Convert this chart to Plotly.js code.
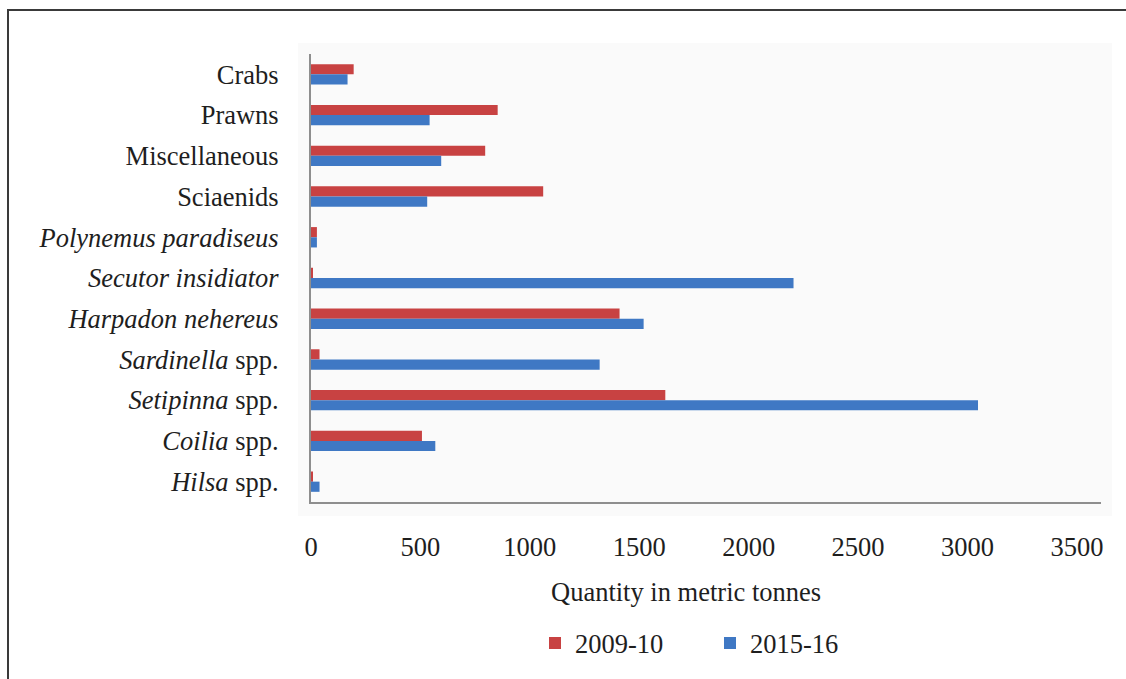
<!DOCTYPE html>
<html>
<head>
<meta charset="utf-8">
<script src="https://cdn.plot.ly/plotly-3.0.1.min.js"></script>
<style>
html,body{margin:0;padding:0;background:#fff;}
#wrap{position:relative;width:1126px;height:679px;}
#chart{width:1126px;height:679px;}
#frame{position:absolute;left:7px;top:9px;width:1119px;height:670px;border-left:2px solid #3a3a3a;border-top:2px solid #3a3a3a;pointer-events:none;}
</style>
</head>
<body>
<div id="wrap"><div id="chart"></div><div id="frame"></div></div>
<script>
const categories = ["Crabs","Prawns","Miscellaneous","Sciaenids","Polynemus paradiseus","Secutor insidiator","Harpadon nehereus","Sardinella spp.","Setipinna spp.","Coilia spp.","Hilsa spp."];
const tickLabels = ["Crabs","Prawns","Miscellaneous","Sciaenids","<i>Polynemus paradiseus</i>","<i>Secutor insidiator</i>","<i>Harpadon nehereus</i>","<i>Sardinella</i> spp.","<i>Setipinna</i> spp.","<i>Coilia</i> spp.","<i>Hilsa</i> spp."];
const values2009 = [195, 853, 796, 1061, 27, 9, 1410, 39, 1619, 507, 9];
const values2015 = [167, 542, 595, 531, 27, 2205, 1520, 1319, 3048, 568, 39];
const xTicks = [0, 500, 1000, 1500, 2000, 2500, 3000, 3500];
const xMax = 3610;

const fam = "Liberation Serif, Times New Roman, serif";
const fsize = 26.5;

const traces = [
  {type: "bar", orientation: "h", name: "2009-10", y: categories, x: values2009,
   marker: {color: "#c84242"}, hoverinfo: "x+y"},
  {type: "bar", orientation: "h", name: "2015-16", y: categories, x: values2015,
   marker: {color: "#3f78c4"}, hoverinfo: "x+y"}
];

const L = 311, R = 1101, T = 54, B = 504;
const pw = R - L, ph = B - T;
const px = v => (v - L) / pw;
const py = v => (B - v) / ph;

const layout = {
  width: 1126, height: 679,
  margin: {l: L, r: 1126 - R, t: T, b: 679 - B, pad: 0},
  paper_bgcolor: "#ffffff",
  plot_bgcolor: "#fafafa",
  font: {family: fam, size: fsize, color: "#1e1e1e"},
  barmode: "group",
  bargap: 0.5,
  bargroupgap: 0,
  showlegend: true,
  legend: {orientation: "h", x: px(535), xanchor: "left", y: py(646), yanchor: "middle",
           font: {family: fam, size: fsize, color: "#1e1e1e"},
           entrywidth: 130, entrywidthmode: "pixels", bgcolor: "rgba(0,0,0,0)"},
  xaxis: {range: [0, xMax], tickvals: xTicks, ticktext: xTicks.map(String),
          showgrid: false, zeroline: false, showline: true, linecolor: "#8e8e8e", linewidth: 2,
          ticks: "", ticklabelstandoff: 20, tickfont: {size: fsize}, fixedrange: true},
  yaxis: {type: "category", categoryorder: "array", categoryarray: categories,
          autorange: "reversed", tickvals: categories, ticktext: tickLabels,
          showgrid: false, zeroline: false, showline: true, linecolor: "#8e8e8e", linewidth: 2,
          ticks: "", ticklabelstandoff: 25, tickfont: {size: fsize}, fixedrange: true},
  shapes: [
    {type: "rect", xref: "paper", yref: "paper", layer: "below",
     x0: px(298), x1: px(1112), y0: py(518), y1: py(43),
     fillcolor: "#fafafa", line: {width: 0}}
  ],
  annotations: [
    {text: "Quantity in metric tonnes", xref: "paper", yref: "paper",
     x: px(686), y: py(594), xanchor: "center", yanchor: "middle", showarrow: false,
     font: {family: fam, size: fsize, color: "#1e1e1e"}}
  ]
};

Plotly.newPlot("chart", traces, layout, {displayModeBar: false});
</script>
</body>
</html>
